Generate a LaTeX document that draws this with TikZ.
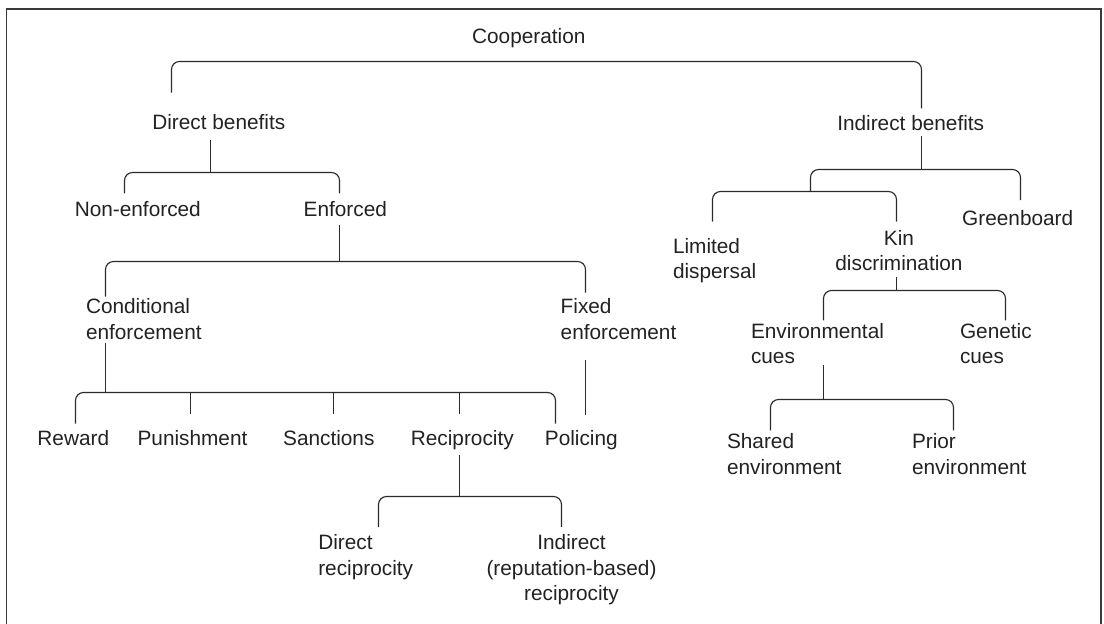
\documentclass[tikz,border=0pt]{standalone}
\usepackage{fontspec}
\setmainfont{Liberation Sans}
\usetikzlibrary{calc}

\definecolor{inkc}{HTML}{222222}
\definecolor{linec}{HTML}{2B2B2B}
\definecolor{framec}{HTML}{3A3A3A}

% stacked lines whose baseline is the baseline of the first line
\newcommand{\nodelines}[2][l]{\begin{tabular}[t]{@{}#1@{}}#2\end{tabular}}

\begin{document}
\begin{tikzpicture}[x=1pt,y=-1pt,
  lbl/.style={inner sep=0pt, outer sep=0pt, anchor=base, text=inkc,
              font=\fontsize{20.8}{25.5}\selectfont},
  lblw/.style={lbl, anchor=base west},
  link/.style={draw=linec, line width=1.15pt},
  bracket/.style={link, rounded corners=8pt},
  frameline/.style={draw=framec, line width=1.8pt}]

\useasboundingbox (0,0) rectangle (1104,624);

% outer frame (open at the bottom)
\draw[frameline] (6.5,624) -- (6.5,9) -- (1101,9) -- (1101,624);

% ---------- labels ----------
\node[lbl]  (coop)    at (528.8,43.3)  {Cooperation};
\node[lbl]  (dirb)    at (218.8,129)   {Direct benefits};
\node[lbl]  (indb)    at (910.7,130)   {Indirect benefits};

\node[lbl]  (nonenf)  at (137.8,216.7) {Non-enforced};
\node[lbl]  (enf)     at (345.3,216.7) {Enforced};

\node[lblw] (cond)    at (86,313.8)    {\nodelines{Conditional\\enforcement}};
\node[lblw] (fixed)   at (560.7,313.8) {\nodelines{Fixed\\enforcement}};

\node[lbl]  (reward)  at (73.3,445.3)  {Reward};
\node[lbl]  (punish)  at (192.5,445.3) {Punishment};
\node[lbl]  (sanct)   at (328.8,445.3) {Sanctions};
\node[lbl]  (recip)   at (462.3,445.3) {Reciprocity};
\node[lbl]  (police)  at (581.3,445.3) {Policing};

\node[lblw] (drecip)  at (318.3,549.5) {\nodelines{Direct\\reciprocity}};
\node[lbl]  (irecip)  at (571.5,549.5) {\nodelines[c]{Indirect\\(reputation-based)\\reciprocity}};

\node[lblw] (limdisp) at (673,253.3)   {\nodelines{Limited\\dispersal}};
\node[lbl]  (kin)     at (899,245)     {\nodelines[c]{Kin\\discrimination}};
\node[lbl]  (green)   at (1017.7,225)  {Greenboard};

\node[lblw] (envcue)  at (751,338)     {\nodelines{Environmental\\cues}};
\node[lblw] (gencue)  at (960,338)     {\nodelines{Genetic\\cues}};

\node[lblw] (shared)  at (727,448.7)   {\nodelines{Shared\\environment}};
\node[lblw] (prior)   at (912,448.7)   {\nodelines{Prior\\environment}};

% ---------- connector points ----------
% Cooperation
\coordinate (coop-bar) at (0,61.5);
\coordinate (dirb-in)  at (171.5,92.7);
\coordinate (indb-in)  at (921.5,108.3);
% Direct benefits
\coordinate (dirb-out) at (210.5,140);
\coordinate (dirb-j)   at (210.5,172.5);
\coordinate (nonenf-in) at (124.5,193.3);
\coordinate (enf-in)   at (339.5,193.3);
% Enforced
\coordinate (enf-out)  at (339.5,225);
\coordinate (enf-j)    at (339.5,261.5);
\coordinate (cond-in)  at (105.5,296.7);
\coordinate (fixed-in) at (585.5,292.7);
% Conditional enforcement
\coordinate (cond-out) at (105.5,342.7);
\coordinate (cond-j)   at (105.5,392.5);
\coordinate (reward-in) at (75.5,423.7);
\coordinate (punish-in) at (190.5,413.7);
\coordinate (sanct-in)  at (333.5,413.7);
\coordinate (recip-in)  at (459.5,413.7);
\coordinate (police-in) at (555.5,423.7);
% Fixed enforcement
\coordinate (fixed-out) at (585.5,359.7);
\coordinate (fixed-end) at (585.5,415.3);
% Reciprocity
\coordinate (recip-out) at (459.5,455.3);
\coordinate (recip-j)   at (459.5,496.5);
\coordinate (drecip-in) at (378.5,527);
\coordinate (irecip-in) at (561.5,527);
% Indirect benefits
\coordinate (indb-out)  at (921.5,136);
\coordinate (indb-j)    at (921.5,169.5);
\coordinate (lk-j)      at (810.5,191.5);
\coordinate (green-in)  at (1020.5,200);
% Limited dispersal / Kin discrimination
\coordinate (limdisp-in) at (712.5,221.7);
\coordinate (kin-in)     at (896.5,221.7);
% Kin discrimination
\coordinate (kin-out)    at (896.5,277.3);
\coordinate (kin-j)      at (896.5,290.5);
\coordinate (envcue-in)  at (823.5,320.3);
\coordinate (gencue-in)  at (1005.5,320.3);
% Environmental cues
\coordinate (envcue-out) at (823.5,365.3);
\coordinate (envcue-j)   at (823.5,399.5);
\coordinate (shared-in)  at (770.5,430.3);
\coordinate (prior-in)   at (953.5,430.3);

% ---------- connectors ----------
\draw[bracket] (dirb-in) |- (indb-in |- coop-bar) -- (indb-in);

\draw[link]    (dirb-out) -- (dirb-j);
\draw[bracket] (nonenf-in) |- (dirb-j) -| (enf-in);

\draw[link]    (enf-out) -- (enf-j);
\draw[bracket] (cond-in) |- (enf-j) -| (fixed-in);

\draw[link]    (cond-out) -- (cond-j);
\draw[bracket] (reward-in) |- (cond-j) -| (police-in);
\draw[link]    (punish-in) -- (punish-in |- cond-j);
\draw[link]    (sanct-in)  -- (sanct-in |- cond-j);
\draw[link]    (recip-in)  -- (recip-in |- cond-j);

\draw[link]    (fixed-out) -- (fixed-end);

\draw[link]    (recip-out) -- (recip-j);
\draw[bracket] (drecip-in) |- (recip-j) -| (irecip-in);

\draw[link]    (indb-out) -- (indb-j);
\draw[bracket] (lk-j) |- (indb-j) -| (green-in);
\draw[bracket] (limdisp-in) |- (lk-j) -| (kin-in);

\draw[link]    (kin-out) -- (kin-j);
\draw[bracket] (envcue-in) |- (kin-j) -| (gencue-in);

\draw[link]    (envcue-out) -- (envcue-j);
\draw[bracket] (shared-in) |- (envcue-j) -| (prior-in);

\end{tikzpicture}
\end{document}
